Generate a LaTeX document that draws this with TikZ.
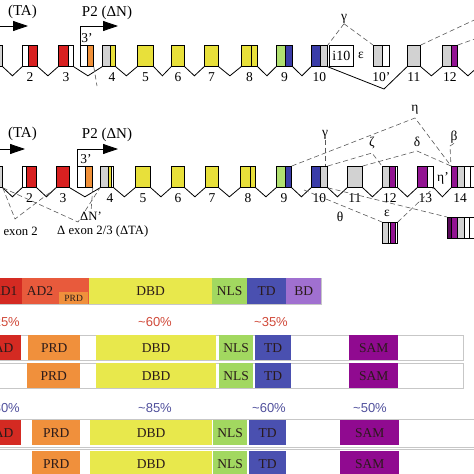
\documentclass[tikz,border=0pt]{standalone}
\usepackage{fontspec}
\setmainfont{Liberation Serif}
\newfontfamily\pctfont{Liberation Sans}
\usetikzlibrary{arrows.meta, positioning, calc}

\definecolor{exred}{HTML}{D82020}
\definecolor{exorange}{HTML}{F09038}
\definecolor{exyellow}{HTML}{E8E03A}
\definecolor{exgray}{HTML}{D2D2D2}
\definecolor{exgreen}{HTML}{B0E070}
\definecolor{exblue}{HTML}{3A3CA8}
\definecolor{expurple}{HTML}{921492}
\definecolor{exdark}{HTML}{5A0A5A}
\definecolor{adred}{HTML}{D42A22}
\definecolor{adtwo}{HTML}{E85A3C}
\definecolor{prdor}{HTML}{F0903C}
\definecolor{dbdyel}{HTML}{E8E84C}
\definecolor{nlsgr}{HTML}{A2D860}
\definecolor{tdblue}{HTML}{4A50B0}
\definecolor{bdlav}{HTML}{A070D0}
\definecolor{sampur}{HTML}{900A90}
\definecolor{pctred}{HTML}{D04A3A}
\definecolor{pctblue}{HTML}{50509C}
\definecolor{domtext}{HTML}{2A1A1A}

% exon: name, x, y, width, strips a/b/colour
\newcommand{\exon}[5]{%
  \foreach \a/\b/\c in {#5}
    \filldraw[fill=\c, draw=black, line width=0.4pt] (#2+\a,#3) rectangle (#2+\b,#3+21);
  \node[exonbox, minimum width=#4] (#1) at (#2,#3) {};
}
\newcommand{\intron}[3][9]{%
  \draw[intron] (#2.south east) -- ($(#2.south east)!.5!(#3.south west)+(0,#1)$) -- (#3.south west);}

\begin{document}
\begin{tikzpicture}[x=1pt, y=-1pt,
  exonbox/.style={draw=black, line width=0.8pt, minimum height=21, inner sep=0, anchor=north west},
  intron/.style={line width=0.8pt},
  splice/.style={dash pattern=on 5pt off 3pt, line width=0.6pt, draw=black!65},
  num/.style={font=\fontsize{13.5}{13.5}\selectfont, inner sep=0},
  iso/.style={font=\fontsize{12.7}{12.7}\selectfont, inner sep=0},
  greek/.style={font=\fontsize{13.5}{13.5}\selectfont, inner sep=0},
  promtext/.style={font=\fontsize{15}{15}\selectfont, inner sep=0},
  prom/.style={line width=0.8pt, -{Triangle[length=15pt, width=10pt]}},
  dom/.style={anchor=north west, inner sep=0, minimum height=26, font=\fontsize{13.5}{13.5}\selectfont, text=domtext},
  barline/.style={draw=black!22, line width=0.8pt},
  pct/.style={font=\pctfont\fontsize{13}{13}\selectfont, inner sep=0},
]
\useasboundingbox (0,0) rectangle (474,474);
\clip (0,0) rectangle (474,474);

% ---- gene 1
\coordinate (r1ta) at (28,26);
\coordinate (r1dn) at (118,26);
\node[promtext, anchor=east] (r1p1) at (37,12) {(TA)};
\node[promtext] (r1p2) at (107,13) {P2 (ΔN)};
\draw[prom] (-20,26) -- (r1ta);

\exon{r1e1}{-13}{45}{15}{0/15/exgray}
\exon{r1e2}{22}{45}{15}{0/6/white,6/15/exred}
\exon{r1e3}{58}{45}{15}{0/10/exred,10/15/white}
\exon{r1e3p}{80}{45}{13}{0/7/white,7/13/exorange}
\exon{r1e4}{102}{45}{13}{0/8/exgray,8/13/exyellow}
\exon{r1e5}{137}{45}{16}{0/16/exyellow}
\exon{r1e6}{171}{45}{13}{0/13/exyellow}
\exon{r1e7}{204}{45}{14}{0/14/exyellow}
\exon{r1e8}{241}{45}{16}{0/10/exyellow,10/16/exyellow}
\exon{r1e9}{276}{45}{16}{0/9/exgreen,9/16/exblue}
\exon{r1e10}{311}{45}{16}{0/9/exblue,9/16/exgray}
\node[exonbox, minimum width=24, font=\fontsize{14}{14}\selectfont] (r1i10) at (329,45) {i10};
\exon{r1e10p}{373}{45}{16}{0/9/exgray,9/16/white}
\exon{r1e11}{407}{45}{13}{0/13/exgray}
\exon{r1e12}{442}{45}{15}{0/9/exgray,9/15/expurple}
\exon{r1e13}{478}{45}{15}{0/15/exgray}

\draw[prom] (r1e3p.north west) |- (r1dn);
\node[num] (r1t3p) at (87,38) {3'};

\intron{r1e1}{r1e2}
\intron{r1e2}{r1e3}
\intron{r1e3}{r1e4}
\intron{r1e4}{r1e5}
\intron{r1e5}{r1e6}
\intron{r1e6}{r1e7}
\intron{r1e7}{r1e8}
\intron{r1e8}{r1e9}
\intron{r1e9}{r1e10}
\coordinate (r1dip) at (384,89);
\draw[intron] (r1e10.south east) -- (r1dip) -- (r1e11.south west);
\intron{r1e11}{r1e12}
\intron{r1e12}{r1e13}

\node[num, below=6pt of r1e2] (r1l2) {2};
\node[num, below=6pt of r1e3] (r1l3) {3};
\node[num, below=6pt of r1e4, xshift=3pt] (r1l4) {4};
\node[num, below=6pt of r1e5] (r1l5) {5};
\node[num, below=6pt of r1e6] (r1l6) {6};
\node[num, below=6pt of r1e7] (r1l7) {7};
\node[num, below=6pt of r1e8] (r1l8) {8};
\node[num, below=6pt of r1e9] (r1l9) {9};
\node[num, below=6pt of r1e10] (r1l10) {10};
\node[num, below=6pt of r1e10p] (r1l10p) {10'};
\node[num, below=6pt of r1e11] (r1l11) {11};
\node[num, below=6pt of r1e12] (r1l12) {12};

\node[greek] (r1g) at (344,19) {γ};
\node[greek] (r1eps) at (361,55) {ε};
\coordinate (r1dnp) at (97,86);
\coordinate (r1x1) at (500,8);
\coordinate (r1x2) at (500,30);
\draw[splice] (r1e3p.south east) -- (r1dnp);
\draw[splice] (r1g.south) -- (r1e10.north east);
\draw[splice] (r1g.south) -- (r1e10p.north west);
\draw[splice] (r1e11.north east) -- (r1x1);
\draw[splice] (r1e12.north east) -- (r1x2);

% ---- gene 2
\coordinate (r2ta) at (25,149);
\coordinate (r2dn) at (118,149);
\node[promtext, anchor=east] (r2p1) at (37,134) {(TA)};
\node[promtext] (r2p2) at (107,135) {P2 (ΔN)};
\draw[prom] (-20,149) -- (r2ta);

\exon{r2e1}{-13}{166}{15}{0/15/exgray}
\exon{r2e2}{22}{166}{14}{0/4/white,4/14/exred}
\exon{r2e3}{56}{166}{13}{0/13/exred}
\exon{r2e3p}{77}{166}{15}{0/8/white,8/15/exorange}
\exon{r2e4}{100}{166}{13}{0/8/exgray,8/11/exyellow,11/13/white}
\exon{r2e5}{135}{166}{15}{0/15/exyellow}
\exon{r2e6}{171}{166}{13}{0/13/exyellow}
\exon{r2e7}{205}{166}{13}{0/13/exyellow}
\exon{r2e8}{240}{166}{15}{0/10/exyellow,10/15/exyellow}
\exon{r2e9}{276}{166}{15}{0/9/exgreen,9/15/exblue}
\exon{r2e10}{311}{166}{16}{0/9/exblue,9/16/exgray}
\exon{r2e11}{347}{166}{15}{0/15/exgray}
\exon{r2e12}{382}{166}{15}{0/7/exgray,7/13/expurple,13/15/white}
\exon{r2e13}{417}{166}{16}{0/10/expurple,10/16/white}
\exon{r2e14}{451}{166}{30}{0/6/expurple,6/13/exgray,13/19/white,19/25/white,25/30/exgray}
\exon{r2eps}{382}{222}{15}{0/6/exgray,6/8/white,8/13/expurple,13/15/white}
\exon{r2etp}{447}{217}{34}{0/4/exdark,4/10/expurple,10/17/exgray,17/22/white,22/28/white,28/34/exgray}

\draw[prom] (r2e3p.north west) |- (r2dn);
\node[num] (r2t3p) at (86,159) {3'};

\intron{r2e1}{r2e2}
\intron{r2e2}{r2e3}
\intron{r2e3}{r2e4}
\intron{r2e4}{r2e5}
\intron{r2e5}{r2e6}
\intron{r2e6}{r2e7}
\intron{r2e7}{r2e8}
\intron{r2e8}{r2e9}
\intron{r2e9}{r2e10}
\intron{r2e10}{r2e11}
\intron{r2e11}{r2e12}
\intron{r2e12}{r2e13}
\intron{r2e13}{r2e14}

\node[num, below=6pt of r2e2] (r2l2) {2};
\node[num, below=6pt of r2e3] (r2l3) {3};
\node[num, below=6pt of r2e4, xshift=3pt] (r2l4) {4};
\node[num, below=6pt of r2e5] (r2l5) {5};
\node[num, below=6pt of r2e6] (r2l6) {6};
\node[num, below=6pt of r2e7] (r2l7) {7};
\node[num, below=6pt of r2e8] (r2l8) {8};
\node[num, below=6pt of r2e9] (r2l9) {9};
\node[num, below=6pt of r2e10] (r2l10) {10};
\node[num, below=6pt of r2e11] (r2l11) {11};
\node[num, below=6pt of r2e12] (r2l12) {12};
\node[num, below=6pt of r2e13] (r2l13) {13};
\node[num, below=6pt of r2e14.south west, anchor=north, xshift=9pt] (r2l14) {14};

% isoform splicing
\node[greek] (r2g) at (325,135) {γ};
\node[greek] (r2z) at (372,143) {ζ};
\node[greek] (r2d) at (417,142) {δ};
\node[greek] (r2b) at (454,137) {β};
\node[greek] (r2h) at (415,110) {η};
\node[greek] (r2hp) at (443,178) {η'};
\node[greek] (r2t) at (340,217) {θ};
\node[greek] (r2ep) at (387,213) {ε};
\coordinate (r2ah) at (415,118);
\coordinate (r2az) at (372,153);
\coordinate (r2ad) at (417,151);
\coordinate (r2ab) at (450,146);
\coordinate (r2at) at (304,190);
\draw[splice] (r2g.south) -- (r2g.south |- r2e10.north);
\draw[splice] (r2e9.north east) -- (r2ah) -- (r2e14.north west);
\draw[splice] (r2e10.north east) -- (r2az) -- (r2e12.north west);
\draw[splice] (r2e11.north east) -- (r2ad) -- (r2e14.north west);
\draw[splice] (r2b.south) -- (r2ab) -- (r2e14.north west);
\draw[splice] (r2at) -- (r2eps.north west);
\draw[splice] (r2eps.north east) -- (r2e13.south east);
\draw[splice] (r2e10.south east) -- (r2etp.north west);

\coordinate (r2dx2) at (15,219);
\coordinate (r2dta) at (78,222);
\draw[splice] (r2e1.south east) -- (r2dx2) -- (r2e3.south west);
\draw[splice] (r2e1.south east) -- (r2dta) -- (r2e4.south west);
\node[iso] (r2dnp) at (91,216) {ΔN'};
\draw[splice] (r2e3p.south east) -- (r2dnp.north);
\node[iso, anchor=east] (r2lx2) at (38,231) {Δ exon 2};
\node[iso, anchor=west] (r2lx23) at (57,231) {Δ exon 2/3 (ΔTA)};

% ---- protein domains
\draw[barline] (-14,278) rectangle (321,304);
\node[dom, fill=adred, minimum width=36] (pad1) at (-14,278) {AD1};
\node[dom, fill=adtwo, minimum width=67] (pad2) at (22,278) {};
\node[dom, minimum height=0, anchor=center] (pad2t) at (40,291) {AD2};
\node[dom, fill=prdor, minimum width=29, minimum height=12, font=\fontsize{9.5}{9.5}\selectfont] (pprd) at (59,292) {PRD};
\node[dom, fill=dbdyel, minimum width=123] (pdbd) at (89,278) {DBD};
\node[dom, fill=nlsgr, minimum width=35] (pnls) at (212,278) {NLS};
\node[dom, fill=tdblue, minimum width=39] (ptd) at (247,278) {TD};
\node[dom, fill=bdlav, minimum width=35] (pbd) at (286,278) {BD};

\node[pct, text=pctred, anchor=east] (pc1) at (20,322) {\textasciitilde25\%};
\node[pct, text=pctred] (pc2) at (155,322) {\textasciitilde60\%};
\node[pct, text=pctred] (pc3) at (271,322) {\textasciitilde35\%};

\draw[barline] (-14,335) rectangle (463,360);
\node[dom, minimum height=25, fill=adred, minimum width=35] (qad) at (-14,335) {AD};
\node[dom, minimum height=25, fill=prdor, minimum width=52] (qprd) at (28,335) {PRD};
\node[dom, minimum height=25, fill=dbdyel, minimum width=120] (qdbd) at (96,335) {DBD};
\node[dom, minimum height=25, fill=nlsgr, minimum width=34] (qnls) at (219,335) {NLS};
\node[dom, minimum height=25, fill=tdblue, minimum width=36] (qtd) at (255,335) {TD};
\node[dom, minimum height=25, fill=sampur, minimum width=49] (qsam) at (349,335) {SAM};

\draw[barline] (-14,363) rectangle (463,388);
\node[dom, minimum height=25, fill=prdor, minimum width=53] (sprd) at (27,363) {PRD};
\node[dom, minimum height=25, fill=dbdyel, minimum width=120] (sdbd) at (96,363) {DBD};
\node[dom, minimum height=25, fill=nlsgr, minimum width=34] (snls) at (219,363) {NLS};
\node[dom, minimum height=25, fill=tdblue, minimum width=36] (std) at (255,363) {TD};
\node[dom, minimum height=25, fill=sampur, minimum width=49] (ssam) at (349,363) {SAM};

\node[pct, text=pctblue, anchor=east] (pc4) at (20,408) {\textasciitilde30\%};
\node[pct, text=pctblue] (pc5) at (155,408) {\textasciitilde85\%};
\node[pct, text=pctblue] (pc6) at (269,408) {\textasciitilde60\%};
\node[pct, text=pctblue] (pc7) at (370,408) {\textasciitilde50\%};

\draw[barline] (-14,419) rectangle (490,447);
\node[dom, minimum height=25, fill=adred, minimum width=35] (tad) at (-14,420) {AD};
\node[dom, minimum height=25, fill=prdor, minimum width=48] (tprd) at (32,420) {PRD};
\node[dom, minimum height=25, fill=dbdyel, minimum width=122] (tdbd) at (90,420) {DBD};
\node[dom, minimum height=25, fill=nlsgr, minimum width=34] (tnls) at (213,420) {NLS};
\node[dom, minimum height=25, fill=tdblue, minimum width=37] (ttd) at (249,420) {TD};
\node[dom, minimum height=25, fill=sampur, minimum width=59] (tsam) at (340,420) {SAM};

\draw[barline] (-14,449) rectangle (490,480);
\node[dom, minimum height=25, fill=prdor, minimum width=48] (uprd) at (32,451) {PRD};
\node[dom, minimum height=25, fill=dbdyel, minimum width=122] (udbd) at (90,451) {DBD};
\node[dom, minimum height=25, fill=nlsgr, minimum width=34] (unls) at (213,451) {NLS};
\node[dom, minimum height=25, fill=tdblue, minimum width=37] (utd) at (249,451) {TD};
\node[dom, minimum height=25, fill=sampur, minimum width=59] (usam) at (340,451) {SAM};
\end{tikzpicture}
\end{document}
